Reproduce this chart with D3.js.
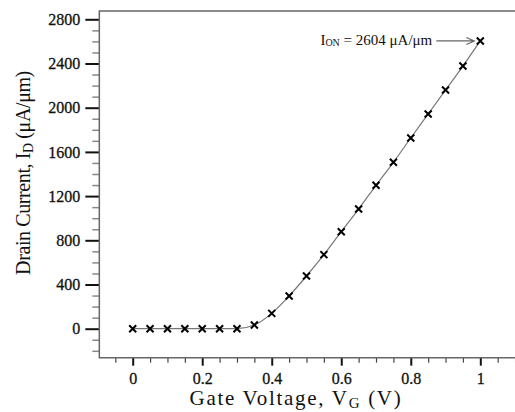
<!DOCTYPE html>
<html>
<head>
<meta charset="utf-8">
<script src="https://cdn.jsdelivr.net/npm/d3@7"></script>
<style>
  body { margin: 0; background: #fff; }
  text { font-family: "Liberation Serif", "DejaVu Serif", serif; }
</style>
</head>
<body>
<script>
// gate voltage (V) and drain current (uA/um)
var gateVoltage = [0, 0.05, 0.1, 0.15, 0.2, 0.25, 0.3, 0.35, 0.4, 0.45, 0.5,
                   0.55, 0.6, 0.65, 0.7, 0.75, 0.8, 0.85, 0.9, 0.95, 1.0];
var drainCurrent = [0, 0, 0, 0, 0, 0, 0, 33, 139, 296, 477,
                    670, 878, 1083, 1298, 1506, 1726, 1943, 2160, 2377, 2604];

var xMajor = [0, 0.2, 0.4, 0.6, 0.8, 1];
var yMajor = [0, 400, 800, 1200, 1600, 2000, 2400, 2800];
var ionLabel = "2604 μA/μm";

var width = 515, height = 412;

// scales: left/bottom of the frame sit a little outside the data range
var x = d3.scaleLinear().domain([0, 1]).range([132.7, 480.3]);
var y = d3.scaleLinear().domain([0, 2800]).range([328.7, 19.3]);
var xMin = -0.096, xMax = 1.2, yMin = -262, yMax = 2875;

var svg = d3.select("body").append("svg")
    .attr("width", width)
    .attr("height", height);

// minor ticks
var xMinor = d3.range(-0.05, 1.151, 0.05).filter(function(v) {
  return Math.abs(v * 5 - Math.round(v * 5)) > 1e-6;
});
var yMinor = d3.range(-200, 2801, 100).filter(function(v) { return v % 400 !== 0; });

svg.append("g")
    .attr("transform", "translate(" + x(xMin) + ",0)")
    .call(d3.axisLeft(y).tickValues(yMinor).tickSize(7).tickFormat(""))
    .call(function(g) {
      g.select(".domain").remove();
      g.selectAll("line").attr("stroke", "#888").attr("stroke-width", 1.5);
    });

svg.append("g")
    .attr("transform", "translate(0," + y(yMin) + ")")
    .call(d3.axisBottom(x).tickValues(xMinor).tickSize(5).tickFormat(""))
    .call(function(g) {
      g.select(".domain").remove();
      g.selectAll("line").attr("stroke", "#444").attr("stroke-width", 1.2);
    });

// major ticks with labels
function styleLabels(g) {
  g.selectAll("text")
    .attr("font-size", 16)
    .attr("fill", "#111")
    .attr("stroke", "#111")
    .attr("stroke-width", 0.3)
    .style("font-family", "Liberation Serif");
}

svg.append("g")
    .attr("transform", "translate(" + x(xMin) + ",0)")
    .call(d3.axisLeft(y).tickValues(yMajor).tickSize(14).tickPadding(5)
      .tickFormat(d3.format("d")))
    .call(function(g) {
      g.select(".domain").remove();
      g.selectAll("line").attr("stroke", "#111").attr("stroke-width", 2);
      styleLabels(g);
    });

svg.append("g")
    .attr("transform", "translate(0," + y(yMin) + ")")
    .call(d3.axisBottom(x).tickValues(xMajor).tickSize(8).tickPadding(7)
      .tickFormat(d3.format("~g")))
    .call(function(g) {
      g.select(".domain").remove();
      g.selectAll("line").attr("stroke", "#111").attr("stroke-width", 2);
      styleLabels(g);
    });

// frame (left, top, bottom)
svg.append("path")
    .attr("d", "M" + x(xMax) + "," + y(yMax) + "H" + x(xMin) + "V" + y(yMin) + "H" + x(xMax))
    .attr("fill", "none")
    .attr("stroke", "#666")
    .attr("stroke-width", 1.5);

// curve
var pts = gateVoltage.map(function(v, i) { return [v, drainCurrent[i]]; });

svg.append("path")
    .datum(pts)
    .attr("fill", "none")
    .attr("stroke", "#777")
    .attr("stroke-width", 1.2)
    .attr("d", d3.line()
      .x(function(d) { return x(d[0]); })
      .y(function(d) { return y(d[1]); })
      .curve(d3.curveMonotoneX));

// cross markers
svg.selectAll(".mark")
    .data(pts)
  .enter().append("path")
    .attr("class", "mark")
    .attr("transform", function(d) { return "translate(" + x(d[0]) + "," + y(d[1]) + ")"; })
    .attr("d", "M-3.5,-3.5L3.5,3.5M-3.5,3.5L3.5,-3.5")
    .attr("stroke", "#000")
    .attr("stroke-width", 2);

// I_ON annotation with arrow
var last = pts[pts.length - 1];
var ax = x(last[0]) - 6, ay = y(last[1]);

svg.append("path")
    .attr("d", "M" + (ax - 38) + "," + ay + "H" + ax + "M" + (ax - 8) + "," + (ay - 3.5) + "L" + ax + "," + ay + "L" + (ax - 8) + "," + (ay + 3.5))
    .attr("fill", "none")
    .attr("stroke", "#666")
    .attr("stroke-width", 1.2);

var ann = svg.append("text")
    .attr("x", ax - 42)
    .attr("y", ay + 4)
    .attr("text-anchor", "end")
    .attr("font-size", 15)
    .attr("fill", "#111");
ann.append("tspan").text("I");
ann.append("tspan").attr("font-size", 10).attr("dy", 1).text("ON");
ann.append("tspan").attr("dy", -1).text(" = " + ionLabel);

// axis titles
var xt = svg.append("text")
    .attr("x", 296)
    .attr("y", 405)
    .attr("text-anchor", "middle")
    .attr("font-size", 21)
    .attr("letter-spacing", 1.7)
    .attr("fill", "#111");
xt.append("tspan").text("Gate Voltage, V");
xt.append("tspan").attr("font-size", 15).attr("dy", 3).text("G");
xt.append("tspan").attr("dy", -3).text(" (V)");

var yt = svg.append("text")
    .attr("transform", "translate(30,173) rotate(-90)")
    .attr("text-anchor", "middle")
    .attr("font-size", 20)
    .attr("letter-spacing", -0.4)
    .attr("fill", "#111");
yt.append("tspan").text("Drain Current, I");
yt.append("tspan").attr("font-size", 14).attr("dy", 3).text("D");
yt.append("tspan").attr("dy", -3).text(" (μA/μm)");
</script>
</body>
</html>
